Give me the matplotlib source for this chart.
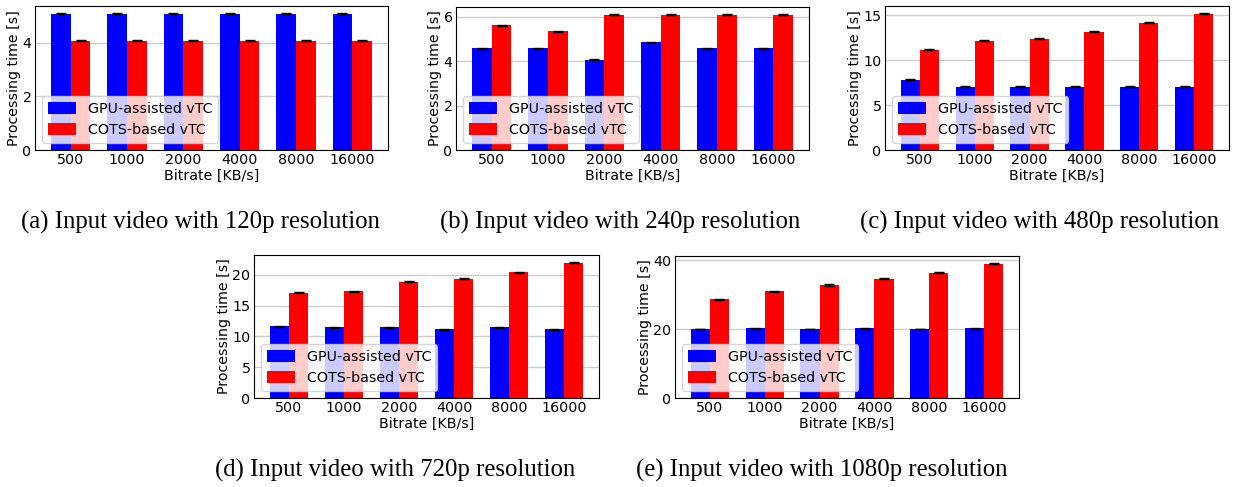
import numpy as np
import matplotlib
matplotlib.use('Agg')
import matplotlib.pyplot as plt

# bitrates on the x axis
bitrates = ['500', '1000', '2000', '4000', '8000', '16000']

# processing time [s]
gpu_120 = [5.08, 5.08, 5.08, 5.08, 5.08, 5.08]
cots_120 = [4.07, 4.07, 4.07, 4.07, 4.07, 4.07]
gpu_240 = [4.58, 4.58, 4.07, 4.84, 4.58, 4.58]
cots_240 = [5.61, 5.34, 6.09, 6.09, 6.09, 6.09]
gpu_480 = [7.84, 7.05, 7.05, 7.05, 7.05, 7.05]
cots_480 = [11.2, 12.2, 12.43, 13.2, 14.2, 15.2]
gpu_720 = [11.66, 11.5, 11.5, 11.17, 11.5, 11.17]
cots_720 = [17.1, 17.36, 18.9, 19.4, 20.4, 22.0]
gpu_1080 = [20.0, 20.26, 20.0, 20.26, 20.0, 20.26]
cots_1080 = [28.6, 30.9, 32.75, 34.6, 36.4, 39.0]

# small error bars
err_rel = 0.006

captions = ['(a) Input video with 120p resolution',
            '(b) Input video with 240p resolution',
            '(c) Input video with 480p resolution',
            '(d) Input video with 720p resolution',
            '(e) Input video with 1080p resolution']

W, H = 1233, 487
fig = plt.figure(figsize=(W / 100, H / 100), dpi=100)


def px_axes(x0, y0, x1, y1):
    # pixel box (left, top, right, bottom) -> figure fraction
    return fig.add_axes([x0 / W, 1 - y1 / H, (x1 - x0) / W, (y1 - y0) / H])


def draw(ax, gpu, cots, yticks):
    x = np.arange(len(bitrates))
    w = 0.35
    gpu = np.array(gpu)
    cots = np.array(cots)
    ax.bar(x - w / 2, gpu, w, color='blue', label='GPU-assisted vTC',
           yerr=gpu * err_rel, capsize=3.5, error_kw={'elinewidth': 1})
    ax.bar(x + w / 2, cots, w, color='red', label='COTS-based vTC',
           yerr=cots * err_rel, capsize=3.5, error_kw={'elinewidth': 1})
    ax.set_xticks(x)
    ax.set_xticklabels(bitrates)
    ax.set_yticks(yticks)
    ax.tick_params(axis='both', labelsize=10.3, length=0, pad=2.5)
    ax.set_xlabel('Bitrate [KB/s]', fontsize=10.2, labelpad=1)
    ax.set_ylabel('Processing time [s]', fontsize=10.2, labelpad=1)
    ax.yaxis.grid(True, color='#cccccc', linewidth=1)
    ax.set_axisbelow(True)
    ax.legend(loc='lower left', fontsize=10.3, handleheight=0.85)


ax1 = px_axes(35, 6, 388, 150)
draw(ax1, gpu_120, cots_120, [0, 2, 4])
ax2 = px_axes(456, 7, 809, 150)
draw(ax2, gpu_240, cots_240, [0, 2, 4, 6])
ax3 = px_axes(885, 6, 1229, 150)
draw(ax3, gpu_480, cots_480, [0, 5, 10, 15])
ax4 = px_axes(254, 255, 599, 398)
draw(ax4, gpu_720, cots_720, [0, 5, 10, 15, 20])
ax5 = px_axes(675, 256, 1019, 398)
draw(ax5, gpu_1080, cots_1080, [0, 20, 40])

cap_pos = [(200, 222), (620, 222), (1040, 222), (395, 470), (822, 470)]
for (cx, cy), txt in zip(cap_pos, captions):
    fig.text(cx / W, 1 - cy / H, txt, ha='center', va='center',
             fontsize=17.8, family='Liberation Serif')

fig.savefig('out.png', dpi=100)
